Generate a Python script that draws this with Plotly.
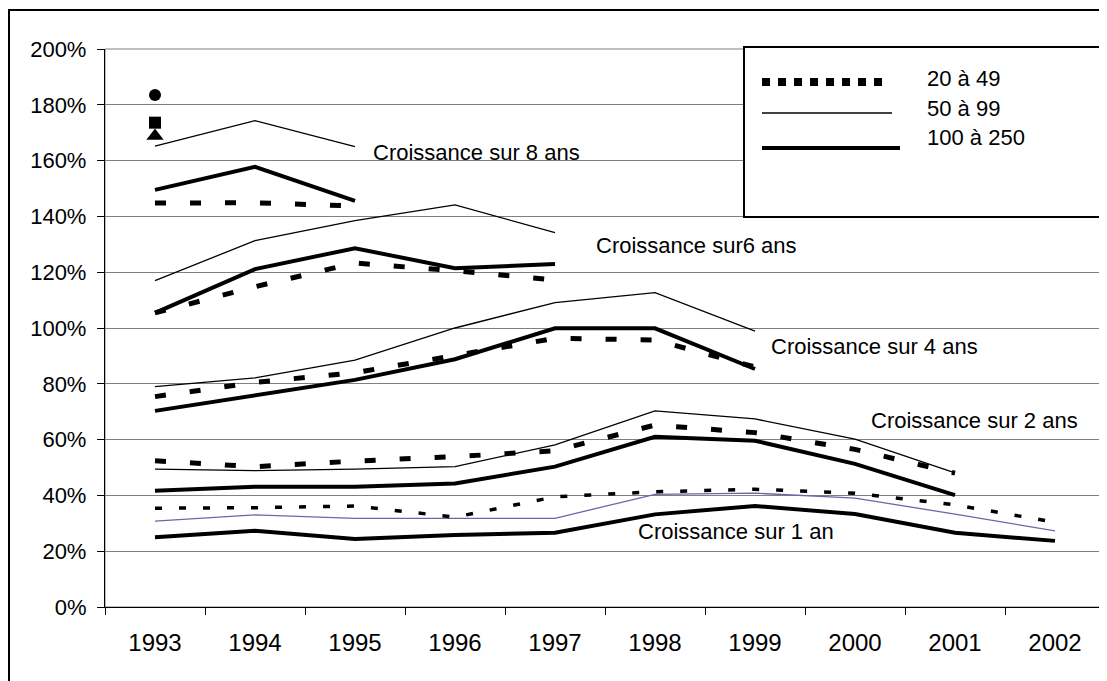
import plotly.graph_objects as go

years = ["1993", "1994", "1995", "1996", "1997", "1998", "1999", "2000", "2001", "2002"]

# Croissance sur 8 ans
g8_20_49 = [144.8, 144.9, 143.7]
g8_50_99 = [165.2, 174.3, 165.0]
g8_100_250 = [149.5, 157.8, 145.6]

# Croissance sur 6 ans
g6_20_49 = [105.4, 114.8, 123.3, 120.5, 117.2]
g6_50_99 = [117.0, 131.3, 138.5, 144.1, 134.2]
g6_100_250 = [105.4, 121.1, 128.6, 121.4, 122.9]

# Croissance sur 4 ans
g4_20_49 = [75.4, 80.5, 84.0, 90.3, 96.3, 95.7, 86.0]
g4_50_99 = [79.0, 82.1, 88.5, 100.0, 109.1, 112.7, 98.9]
g4_100_250 = [70.3, 76.0, 81.4, 88.8, 99.9, 99.9, 85.3]

# Croissance sur 2 ans
g2_20_49 = [52.4, 50.3, 52.3, 53.9, 56.0, 65.2, 62.5, 56.5, 48.0]
g2_50_99 = [49.4, 48.9, 49.4, 50.3, 58.1, 70.3, 67.4, 60.2, 48.1]
g2_100_250 = [41.7, 43.1, 43.1, 44.3, 50.3, 61.0, 59.6, 51.3, 40.1]

# Croissance sur 1 an
g1_20_49 = [35.4, 35.6, 36.2, 32.2, 39.5, 41.3, 42.2, 40.8, 36.6, 30.4]
g1_50_99 = [30.8, 33.0, 31.8, 31.8, 31.8, 40.4, 40.8, 39.0, 33.3, 27.3]
g1_100_250 = [25.0, 27.3, 24.4, 25.8, 26.6, 33.2, 36.2, 33.3, 26.6, 23.7]

# points isolés 1993
pt_circle = 183.5
pt_square = 173.6
pt_triangle = 168.8

labels = ["Croissance sur 8 ans", "Croissance sur6 ans", "Croissance sur 4 ans",
          "Croissance sur 2 ans", "Croissance sur 1 an"]
label_x = [2.16, 4.39, 6.14, 7.14, 4.81]
label_y = [163.0, 129.7, 93.2, 66.7, 26.9]

legend_names = ["20 à 49", "50 à 99", "100 à 250"]

FONT = "Liberation Sans, Arial, sans-serif"

dotted = dict(color="black", width=5, dash="11px,24px")
thin = dict(color="black", width=1.3)
thick = dict(color="black", width=4)

fig = go.Figure()

groups = [
    (g8_20_49, g8_50_99, g8_100_250),
    (g6_20_49, g6_50_99, g6_100_250),
    (g4_20_49, g4_50_99, g4_100_250),
    (g2_20_49, g2_50_99, g2_100_250),
]
for a, b, c in groups:
    fig.add_trace(go.Scatter(x=years[:len(b)], y=b, mode="lines", line=thin, showlegend=False))
    fig.add_trace(go.Scatter(x=years[:len(c)], y=c, mode="lines", line=thick, showlegend=False))
    fig.add_trace(go.Scatter(x=years[:len(a)], y=a, mode="lines", line=dotted, showlegend=False))

fig.add_trace(go.Scatter(x=years, y=g1_50_99, mode="lines",
                         line=dict(color="#6868a8", width=1.3), showlegend=False))
fig.add_trace(go.Scatter(x=years, y=g1_100_250, mode="lines", line=thick, showlegend=False))
fig.add_trace(go.Scatter(x=years, y=g1_20_49, mode="lines",
                         line=dict(color="black", width=3.5, dash="7px,17px"), showlegend=False))

for val, sym, sz in [(pt_circle, "circle", 12), (pt_square, "square", 12),
                     (pt_triangle, "triangle-up", 15)]:
    fig.add_trace(go.Scatter(x=[years[0]], y=[val], mode="markers",
                             marker=dict(symbol=sym, size=sz, color="black"), showlegend=False))

for txt, lx, ly in zip(labels, label_x, label_y):
    fig.add_annotation(x=lx, y=ly, xref="x", yref="y", text=txt, showarrow=False,
                       xanchor="left", yanchor="middle", font=dict(size=22, color="black"))

# cadre extérieur et cadre de la zone de tracé
fig.add_shape(type="rect", xref="paper", yref="paper", x0=-0.096, x1=1.3, y0=-0.4, y1=1.070,
              line=dict(color="black", width=2), layer="below")
fig.add_shape(type="rect", xref="paper", yref="paper", x0=0, x1=1, y0=0, y1=1,
              line=dict(color="#808080", width=1), layer="below")

# légende
fig.add_shape(type="rect", xref="paper", yref="paper", x0=0.639, x1=1.0, y0=0.699, y1=1.0036,
              line=dict(color="black", width=2), fillcolor="white", layer="above")
leg_styles = [dict(color="black", width=8, dash="8px,8px"),
              dict(color="black", width=1.5),
              dict(color="black", width=4)]
leg_sym_y = [0.9409, 0.8853, 0.8226]
leg_sym_x1 = [0.778, 0.787, 0.795]
leg_txt_y = [0.948, 0.894, 0.842]
for name, st, sy, sx1, ty in zip(legend_names, leg_styles, leg_sym_y, leg_sym_x1, leg_txt_y):
    fig.add_shape(type="line", xref="paper", yref="paper", x0=0.657, x1=sx1, y0=sy, y1=sy,
                  line=st, layer="above")
    fig.add_annotation(x=0.82, y=ty, xref="paper", yref="paper", text=name, showarrow=False,
                       xanchor="left", yanchor="middle", font=dict(size=22, color="black"))

fig.update_layout(
    width=1099, height=673,
    margin=dict(l=97, r=2, t=41, b=74),
    paper_bgcolor="white", plot_bgcolor="white",
    font=dict(family=FONT, color="black"),
    showlegend=False,
)
fig.update_xaxes(type="category", range=[-0.5, 9.5], tickson="boundaries", ticks="outside",
                 ticklen=7, tickcolor="black", showline=True, linecolor="black", linewidth=1.3,
                 showgrid=False, tickfont=dict(size=24), ticklabelstandoff=14)
fig.update_yaxes(range=[0, 200], dtick=20, ticksuffix="%", ticks="outside", ticklen=7,
                 tickcolor="black", showline=True, linecolor="black", linewidth=1.3,
                 showgrid=True, gridcolor="#808080", gridwidth=1, zeroline=False,
                 tickfont=dict(size=22), ticklabelstandoff=6)

fig.write_html("out.html")
